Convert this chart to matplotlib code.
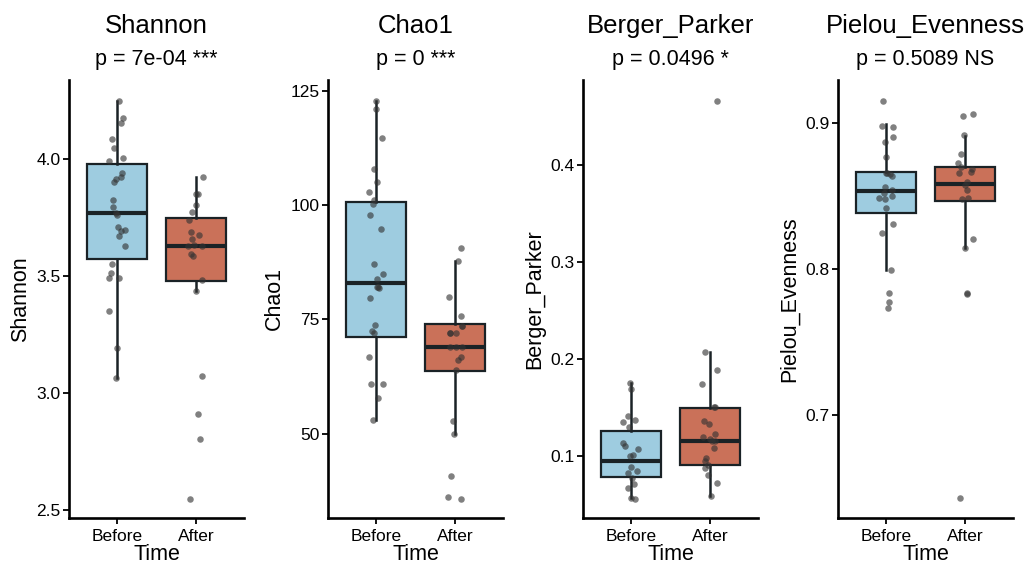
import numpy as np
import matplotlib
matplotlib.use("Agg")
import matplotlib.pyplot as plt

groups = ["Before", "After"]
metrics = ["Shannon", "Chao1", "Berger_Parker", "Pielou_Evenness"]
pvals = ["p = 7e-04 ***", "p = 0 ***", "p = 0.0496 *", "p = 0.5089 NS"]

# Box statistics: (whislo, q1, med, q3, whishi)
shannon_box_before = [3.067, 3.573, 3.769, 3.980, 4.250]
shannon_box_after = [3.439, 3.481, 3.631, 3.748, 3.923]
chao1_box_before = [53.0, 71.1, 82.9, 100.6, 122.8]
chao1_box_after = [50.0, 63.8, 68.9, 74.0, 87.8]
bp_box_before = [0.056, 0.0784, 0.0945, 0.1255, 0.1754]
bp_box_after = [0.0588, 0.0904, 0.1152, 0.1496, 0.2067]
pe_box_before = [0.7994, 0.8387, 0.8538, 0.8664, 0.8995]
pe_box_after = [0.8143, 0.8470, 0.8584, 0.8703, 0.8913]

# Sample points
shannon_before = [4.25, 4.175, 4.157, 4.085, 4.047, 4.004, 3.993, 3.943, 3.923, 3.915,
                  3.905, 3.826, 3.795, 3.772, 3.762, 3.712, 3.70, 3.695, 3.674, 3.631,
                  3.553, 3.516, 3.491, 3.491, 3.352, 3.195, 3.067]
shannon_after = [3.923, 3.852, 3.852, 3.805, 3.776, 3.741, 3.69, 3.677, 3.66, 3.634,
                 3.63, 3.63, 3.595, 3.588, 3.484, 3.439, 3.076, 2.91, 2.803, 2.55]
chao1_before = [122.8, 120.9, 114.7, 107.9, 105.0, 102.8, 101.1, 100.2, 97.8, 94.7,
                87.0, 84.9, 83.9, 82.1, 82.0, 81.9, 79.7, 73.7, 72.5, 72.1,
                66.8, 60.8, 60.8, 57.9, 53.0]
chao1_after = [90.7, 87.8, 79.8, 75.7, 73.6, 73.6, 72.1, 72.1, 72.1, 68.9,
               68.9, 68.9, 66.8, 66.1, 63.9, 52.8, 50.0, 40.7, 36.1, 35.8]
bp_before = [0.175, 0.1685, 0.141, 0.137, 0.1344, 0.130, 0.1128, 0.1104, 0.1066, 0.1007,
             0.0997, 0.0887, 0.0846, 0.0825, 0.0773, 0.0704, 0.0663, 0.0567, 0.0553]
bp_after = [0.466, 0.2067, 0.1884, 0.1736, 0.1506, 0.1506, 0.1358, 0.1324, 0.122, 0.1196,
            0.1152, 0.1152, 0.1172, 0.1083, 0.098, 0.0945, 0.0904, 0.087, 0.080, 0.0715,
            0.0588]
pe_before = [0.9155, 0.898, 0.8977, 0.8874, 0.8904, 0.8767, 0.8657, 0.8641, 0.865, 0.8662,
             0.8566, 0.8543, 0.852, 0.850, 0.8486, 0.848, 0.8417, 0.831, 0.825, 0.7994,
             0.7839, 0.7773, 0.7731]
pe_after = [0.9062, 0.905, 0.892, 0.879, 0.8726, 0.870, 0.8685, 0.8664, 0.8657, 0.860,
            0.8577, 0.8543, 0.8486, 0.848, 0.8205, 0.8143, 0.7834, 0.7827, 0.6429]

yticks = [[2.5, 3.0, 3.5, 4.0], [50, 75, 100, 125], [0.1, 0.2, 0.3, 0.4], [0.7, 0.8, 0.9]]
yticklabels = [["2.5", "3.0", "3.5", "4.0"], ["50", "75", "100", "125"],
               ["0.1", "0.2", "0.3", "0.4"], ["0.7", "0.8", "0.9"]]
ylims = [(2.467, 4.339), (31.6, 127.3), (0.0357, 0.4877), (0.6293, 0.9297)]

boxes = [(shannon_box_before, shannon_box_after), (chao1_box_before, chao1_box_after),
         (bp_box_before, bp_box_after), (pe_box_before, pe_box_after)]
points = [(shannon_before, shannon_after), (chao1_before, chao1_after),
          (bp_before, bp_after), (pe_before, pe_after)]

colors = ["#9ECCE0", "#CA7159"]
edge = "#1a2226"

plt.rcParams["font.family"] = ["Liberation Sans", "DejaVu Sans"]
fig = plt.figure(figsize=(10.32, 5.67), dpi=100)
lefts = [69, 328, 583, 838]
W, H = 1032, 567
rng = np.random.default_rng(7)

for i, m in enumerate(metrics):
    ax = fig.add_axes([lefts[i] / W, 1 - 518 / H, 175 / W, (518 - 80) / H])
    stats = []
    for j, b in enumerate(boxes[i]):
        stats.append(dict(whislo=b[0], q1=b[1], med=b[2], q3=b[3], whishi=b[4],
                          fliers=[], label=groups[j]))
    bp = ax.bxp(stats, positions=[1, 2], widths=0.75, patch_artist=True,
                showcaps=False, showfliers=False,
                boxprops=dict(linewidth=1.6, edgecolor=edge),
                whiskerprops=dict(linewidth=1.8, color=edge),
                medianprops=dict(linewidth=3, color=edge), zorder=2)
    for patch, c in zip(bp["boxes"], colors):
        patch.set_facecolor(c)
    for j, vals in enumerate(points[i]):
        xs = (j + 1) + rng.uniform(-0.1, 0.1, len(vals))
        ax.scatter(xs, vals, s=22, color="#333333", alpha=0.62, linewidths=0, zorder=3)
    ax.set_xlim(0.4, 2.6)
    ax.set_ylim(*ylims[i])
    ax.set_yticks(yticks[i])
    ax.set_yticklabels(yticklabels[i])
    ax.set_xticks([1, 2])
    ax.set_xticklabels(groups)
    for s in ["top", "right"]:
        ax.spines[s].set_visible(False)
    for s in ["left", "bottom"]:
        ax.spines[s].set_linewidth(1.9)
    ax.tick_params(axis="y", labelsize=12.5, width=1.3, length=4, color="black", pad=2)
    ax.tick_params(axis="x", labelsize=12.5, width=1.3, length=4, color="black", pad=4)
    ax.set_xlabel("Time", fontsize=15.5, labelpad=0)
    ax.set_ylabel(m, fontsize=15.5, labelpad=4)
    ax.text(0.5, (518 - 26) / 438, m, transform=ax.transAxes, ha="center",
            va="center", fontsize=18.5)
    ax.text(0.5, (518 - 60) / 438, pvals[i], transform=ax.transAxes, ha="center",
            va="center", fontsize=15.5)

fig.savefig("out.png", dpi=100)
